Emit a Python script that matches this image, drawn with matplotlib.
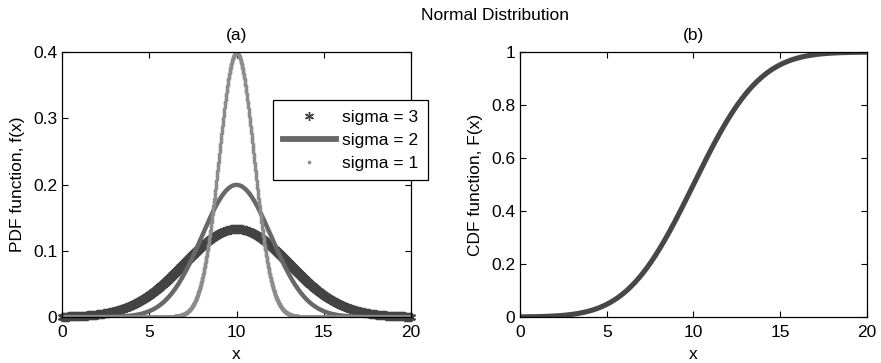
import numpy as np
import matplotlib
matplotlib.use("Agg")
import matplotlib.pyplot as plt
from matplotlib.ticker import FuncFormatter
from math import erf

plt.rcParams['font.family'] = ['Liberation Sans', 'DejaVu Sans']

# Data: normal distributions with mean 10
mu = 10.0
sigmas = [3, 2, 1]
labels = ["sigma = 3", "sigma = 2", "sigma = 1"]
cdf_sigma = 3
x_range = [0, 20]
x_step = 0.01
pdf_yticks = [0, 0.1, 0.2, 0.3, 0.4]
cdf_yticks = [0, 0.2, 0.4, 0.6, 0.8, 1]
xticks = [0, 5, 10, 15, 20]

x = np.arange(x_range[0], x_range[1] + x_step / 2, x_step)

def pdf(xv, s):
    return np.exp(-0.5 * ((xv - mu) / s) ** 2) / (s * np.sqrt(2 * np.pi))

def cdf(xv, s):
    return np.array([0.5 * (1 + erf((v - mu) / (s * np.sqrt(2)))) for v in xv])

FS = 12.5
fig = plt.figure(figsize=(8.81, 3.63), dpi=100)
ax1 = fig.add_axes([0.0704, 0.1267, 0.3961, 0.7300])
ax2 = fig.add_axes([0.5902, 0.1267, 0.3939, 0.7300])

fmt = FuncFormatter(lambda v, p: ('%g' % v))

ax1.plot(x, pdf(x, sigmas[0]), linestyle='none', marker=(6, 2, 0), markersize=6.5,
         markeredgewidth=1.0, color='#434343', label=labels[0], clip_on=False)
ax1.plot(x, pdf(x, sigmas[1]), linestyle='-', linewidth=3.2,
         color='#686868', label=labels[1])
ax1.plot(x, pdf(x, sigmas[2]), linestyle='none', marker='.', markersize=3.2,
         color='#8c8c8c', label=labels[2])

ax2.plot(x, cdf(x, cdf_sigma), linestyle='-', linewidth=3.7, color='#474747')

for ax, yt, ttl, yl in [(ax1, pdf_yticks, "(a)", "PDF function, f(x)"),
                        (ax2, cdf_yticks, "(b)", "CDF function, F(x)")]:
    ax.set_xlim(x_range)
    ax.set_ylim(yt[0], yt[-1])
    ax.set_xticks(xticks)
    ax.set_yticks(yt)
    ax.xaxis.set_major_formatter(fmt)
    ax.yaxis.set_major_formatter(fmt)
    ax.tick_params(direction='in', top=True, right=True, length=4, width=0.8,
                   labelsize=FS)
    ax.tick_params(axis='x', pad=5.5)
    ax.tick_params(axis='y', pad=3.5)
    for sp in ax.spines.values():
        sp.set_linewidth(0.9)
    ax.set_title(ttl, fontsize=FS, pad=8.5)
    ax.set_xlabel("x", fontsize=FS, labelpad=5)
    ax.set_ylabel(yl, fontsize=FS, labelpad=6)

leg = ax1.legend(loc='upper left', bbox_to_anchor=(273 / 881, 1 - 100 / 363),
                 bbox_transform=fig.transFigure, numpoints=1, fontsize=FS,
                 handlelength=3.1, handletextpad=0.35, labelspacing=0.45,
                 borderpad=0.55, borderaxespad=0, fancybox=False, framealpha=1,
                 edgecolor='black')
leg.get_frame().set_linewidth(0.9)
for h in leg.legend_handles:
    if h.get_linestyle() == '-':
        h.set_linewidth(4.2)

fig.text(495 / 881, 1 - 15 / 363, "Normal Distribution", ha='center', va='center', fontsize=FS)

fig.savefig("out.png", dpi=100)
